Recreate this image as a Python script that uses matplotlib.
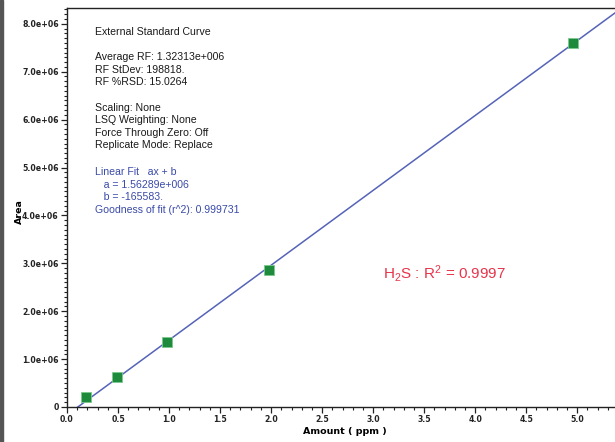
import matplotlib
matplotlib.use("Agg")
import matplotlib.pyplot as plt
import numpy as np
from matplotlib.ticker import MultipleLocator, FuncFormatter
from matplotlib.patches import Rectangle

plt.rcParams["mathtext.fontset"] = "custom"
plt.rcParams["mathtext.rm"] = "Liberation Sans"
plt.rcParams["mathtext.it"] = "Liberation Sans:italic"
plt.rcParams["mathtext.bf"] = "Liberation Sans:bold"
plt.rcParams["mathtext.default"] = "rm"

# Data
amount_ppm = [0.19, 0.49, 0.98, 1.98, 4.96]
area = [0.215e6, 0.626e6, 1.36e6, 2.86e6, 7.59e6]

# Fit parameters shown on the chart
fit_a = 1.56289e6
fit_b = -165583.0

info_black = ["External Standard Curve", "",
              "Average RF: 1.32313e+006",
              "RF StDev: 198818.",
              "RF %RSD: 15.0264", "",
              "Scaling: None",
              "LSQ Weighting: None",
              "Force Through Zero: Off",
              "Replicate Mode: Replace"]
info_blue = ["Linear Fit   ax + b",
             "   a = 1.56289e+006",
             "   b = -165583.",
             "Goodness of fit (r^2): 0.999731"]

W, H = 615, 442
fig = plt.figure(figsize=(W / 100, H / 100), dpi=100)
ax = fig.add_axes([67 / W, (H - 407) / H, (W - 67) / W, (407 - 8) / H])

xmin, xmax = 0.0, 5.37
ymin, ymax = 0.0, 8.33e6
ax.set_xlim(xmin, xmax)
ax.set_ylim(ymin, ymax)

# fit line from x-intercept to right edge
x0 = -fit_b / fit_a
xs = np.array([x0, xmax])
ax.plot(xs, fit_a * xs + fit_b, color="#5563b8", lw=1.1, zorder=2)
ax.scatter(amount_ppm, area, marker="s", s=50, color="#1e8a3c",
           edgecolors="#7cc98e", linewidths=0.6, zorder=3)

ax.spines["right"].set_visible(False)
for s in ["left", "bottom", "top"]:
    ax.spines[s].set_linewidth(1.0)
    ax.spines[s].set_color("#222222")

ax.xaxis.set_major_locator(MultipleLocator(0.5))
ax.xaxis.set_minor_locator(MultipleLocator(0.1))
ax.yaxis.set_major_locator(MultipleLocator(1e6))
ax.yaxis.set_minor_locator(MultipleLocator(1e5))
ax.xaxis.set_major_formatter(FuncFormatter(lambda v, p: f"{v:.1f}"))
ax.yaxis.set_major_formatter(FuncFormatter(
    lambda v, p: "0" if abs(v) < 1 else f"{v/1e6:.1f}e+06"))
ax.tick_params(axis="both", which="major", length=4, width=0.9,
               direction="out", labelsize=6.2, colors="#222222", pad=2)
ax.tick_params(axis="both", which="minor", length=2.5, width=0.8,
               direction="out", colors="#222222")
for lab in ax.get_xticklabels() + ax.get_yticklabels():
    lab.set_fontweight("bold")
    lab.set_fontstretch("condensed")

ax.set_xlabel("Amount ( ppm )", fontsize=6.8, fontweight="bold")
ax.xaxis.set_label_coords((345 - 67) / (W - 67), -(427 - 407) / (407 - 8))
ax.set_ylabel("Area", fontsize=6.8, fontweight="bold")
ax.yaxis.set_label_coords(-(67 - 24) / (W - 67), (407 - 212) / (407 - 8))

fam = "Liberation Sans"
fs = 7.6
y_px = 32
step = 12.6
for line in info_black:
    if line:
        fig.text(95 / W, 1 - y_px / H, line, fontsize=fs, family=fam,
                 color="#1a1a1a", va="center", ha="left")
    y_px += step
y_px = 172
for line in info_blue:
    fig.text(95 / W, 1 - y_px / H, line, fontsize=fs, family=fam,
             color="#3a4aa8", va="center", ha="left")
    y_px += step

fig.text(383 / W, 1 - 273 / H, "H$_2$S : R$^2$ = 0.9997", family=fam,
         fontsize=11, color="#e8334a", va="center", ha="left")

fig.patches.append(Rectangle((0, 0), 3 / W, 1, transform=fig.transFigure,
                             color="#555555", zorder=0))

fig.savefig("out.png", dpi=100)
